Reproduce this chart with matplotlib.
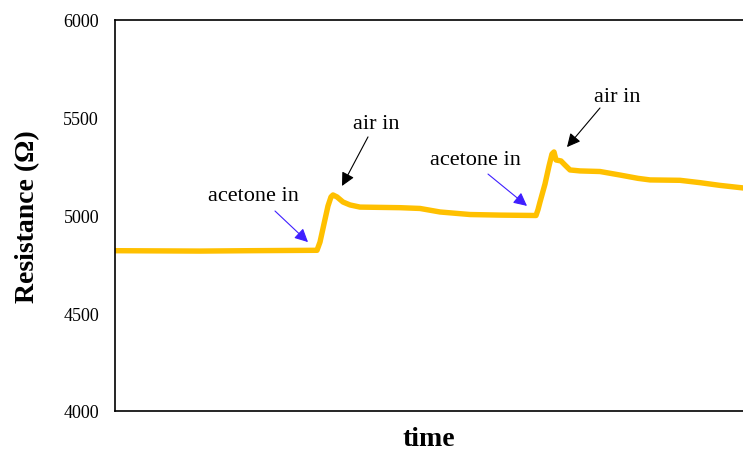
import matplotlib
matplotlib.use('Agg')
import matplotlib.pyplot as plt

plt.rcParams['font.family'] = ['Liberation Serif', 'DejaVu Serif']

# sensor trace: time (arbitrary units) and resistance in ohms
time = [0, 85, 135, 202, 205, 209, 213, 216, 218, 222, 228, 235, 245, 285,
        305, 325, 355, 385, 421, 423, 425, 430, 434, 437, 439, 441, 446, 450,
        455, 465, 485, 505, 523, 535, 565, 585, 605, 628]
resistance = [4820, 4818, 4820, 4822, 4864, 4957, 5049, 5095, 5105, 5095,
              5069, 5054, 5043, 5040, 5036, 5018, 5005, 5002, 5000, 5030,
              5069, 5161, 5253, 5315, 5325, 5284, 5279, 5258, 5233, 5228,
              5225, 5207, 5190, 5182, 5180, 5168, 5154, 5141]

# event markers: label, arrow tip, arrow tail, label position, colour
events = ['acetone in', 'air in', 'acetone in', 'air in']
tips = [(193, 4864), (227, 5151), (412, 5049), (452, 5350)]
tails = [(160, 5023), (253, 5402), (373, 5212), (485, 5550)]
label_pos = [(138, 5100), (261, 5473), (360, 5284), (502, 5611)]
arrow_colors = ['#3f1fff', 'black', '#3f1fff', 'black']

fig = plt.figure(figsize=(7.43, 4.56), dpi=100)
ax = fig.add_axes([115 / 743, 1 - 412 / 456, 628 / 743, 391 / 456])

ax.plot(time, resistance, color='#FFC000', lw=3.9, solid_joinstyle='round')

for label, tip, tail, pos, c in zip(events, tips, tails, label_pos, arrow_colors):
    ax.annotate('', xy=tip, xytext=tail,
                arrowprops=dict(arrowstyle='-|>', color=c, lw=0.8,
                                mutation_scale=20, shrinkA=0, shrinkB=0))
    ax.text(pos[0], pos[1], label, fontsize=16, ha='center', va='center')

ax.set_xlim(0, 628)
ax.set_ylim(4000, 6000)
ax.set_yticks([4000, 4500, 5000, 5500, 6000])
ax.set_xticks([])
ax.tick_params(axis='y', length=0, labelsize=13, pad=11.5)
for side in ['left', 'top', 'bottom']:
    ax.spines[side].set_linewidth(1.2)
ax.spines['right'].set_visible(False)

ax.set_xlabel('time', fontsize=20, fontweight='bold', labelpad=11)
ax.set_ylabel('Resistance (Ω)', fontsize=20, fontweight='bold', labelpad=17)

fig.savefig('out.png', dpi=100)
